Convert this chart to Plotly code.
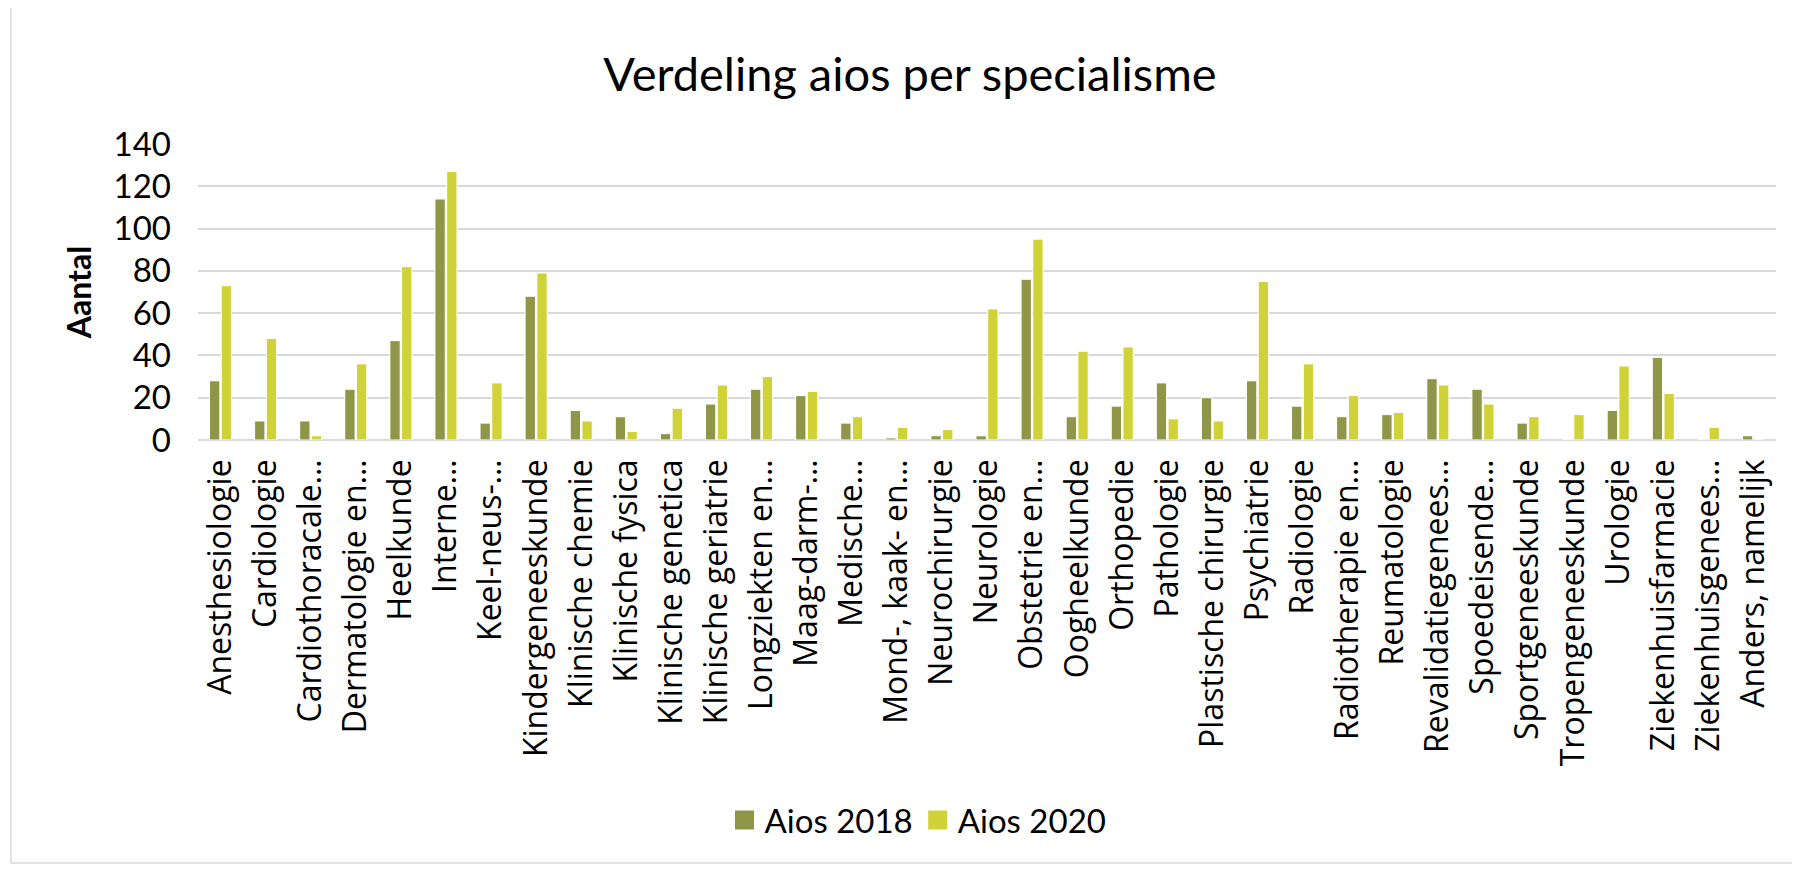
import plotly.graph_objects as go

categories = [
    "Anesthesiologie", "Cardiologie", "Cardiothoracale…", "Dermatologie en…",
    "Heelkunde", "Interne…", "Keel-neus-…", "Kindergeneeskunde",
    "Klinische chemie", "Klinische fysica", "Klinische genetica",
    "Klinische geriatrie", "Longziekten en…", "Maag-darm-…", "Medische…",
    "Mond-, kaak- en…", "Neurochirurgie", "Neurologie", "Obstetrie en…",
    "Oogheelkunde", "Orthopedie", "Pathologie", "Plastische chirurgie",
    "Psychiatrie", "Radiologie", "Radiotherapie en…", "Reumatologie",
    "Revalidatiegenees…", "Spoedeisende…", "Sportgeneeskunde",
    "Tropengeneeskunde", "Urologie", "Ziekenhuisfarmacie",
    "Ziekenhuisgenees…", "Anders, namelijk",
]

aios_2018 = [28, 9, 9, 24, 47, 114, 8, 68, 14, 11, 3, 17, 24, 21, 8, 1, 2, 2,
             76, 11, 16, 27, 20, 28, 16, 11, 12, 29, 24, 8, 0, 14, 39, 0, 2]
aios_2020 = [73, 48, 2, 36, 82, 127, 27, 79, 9, 4, 15, 26, 30, 23, 11, 6, 5,
             62, 95, 42, 44, 10, 9, 75, 36, 21, 13, 26, 17, 11, 12, 35, 22, 6, 0]

series_names = ["Aios 2018", "Aios 2020"]
y_ticks = [0, 20, 40, 60, 80, 100, 120, 140]

C2018 = "#8F9648"
C2020 = "#CFD338"
LABEL_FONT = "Open Sans"
MAIN_FONT = "Lato"

OFF = 8  # page body margin
W, H = 1792, 861
L, R, T, B = 190, 24, 136, 429
pw = W - L - R
ph = H - T - B

def px_x(x):  # x in reference page coords -> paper fraction
    return (x - OFF - L) / pw

def px_y(y):
    return (H - B - (y - OFF)) / ph

fig = go.Figure()
for name, vals, col in zip(series_names, [aios_2018, aios_2020], [C2018, C2020]):
    fig.add_trace(go.Bar(x=categories, y=vals, name=name, showlegend=False,
                         marker=dict(color=col, line=dict(color="white", width=1))))
for name, col in zip(series_names, [C2018, C2020]):
    fig.add_trace(go.Scatter(x=[None], y=[None], mode="markers", name=name,
                             marker=dict(symbol="square", size=16, color=col,
                                         line=dict(color=col, width=3))))

fig.update_layout(
    width=W, height=H,
    margin=dict(l=L, r=R, t=T, b=B, autoexpand=False),
    paper_bgcolor="white", plot_bgcolor="white",
    barmode="group", bargap=0.48, bargroupgap=0.12,
    title=dict(text="Verdeling aios per specialisme", xref="container",
               x=(910 - OFF) / W, xanchor="center",
               yref="container", y=1 - (75 - OFF) / H, yanchor="middle",
               font=dict(family=MAIN_FONT, size=47, color="black")),
    font=dict(family=MAIN_FONT, color="black"),
    xaxis=dict(tickangle=-90, tickfont=dict(family=LABEL_FONT, size=32, color="black"),
               showgrid=False, showline=False, ticks="", ticklen=0,
               ticklabelstandoff=12),
    yaxis=dict(range=[0, 140], tickvals=y_ticks, showgrid=True, gridcolor="#D9D9D9",
               gridwidth=1.5, zeroline=True, zerolinecolor="#D9D9D9", zerolinewidth=1.5,
               tickfont=dict(family=MAIN_FONT, size=33, color="black"), ticks="",
               ticklabelstandoff=26,
               title=dict(text="<b>Aantal</b>", font=dict(family=MAIN_FONT, size=32, color="black"),
                          standoff=12)),
    legend=dict(orientation="h", x=px_x(918), xanchor="center", y=px_y(820), yanchor="middle",
                font=dict(family=MAIN_FONT, size=33, color="black"),
                itemwidth=30, itemsizing="trace", traceorder="normal"),
    shapes=[
        dict(type="line", xref="paper", yref="paper", x0=px_x(11), x1=px_x(11),
             y0=px_y(0), y1=px_y(863), line=dict(color="#D9D9D9", width=1.5)),
        dict(type="line", xref="paper", yref="paper", x0=px_x(11), x1=px_x(1800),
             y0=px_y(863), y1=px_y(863), line=dict(color="#D9D9D9", width=1.5)),
    ],
)

fig.write_html("out.html")
